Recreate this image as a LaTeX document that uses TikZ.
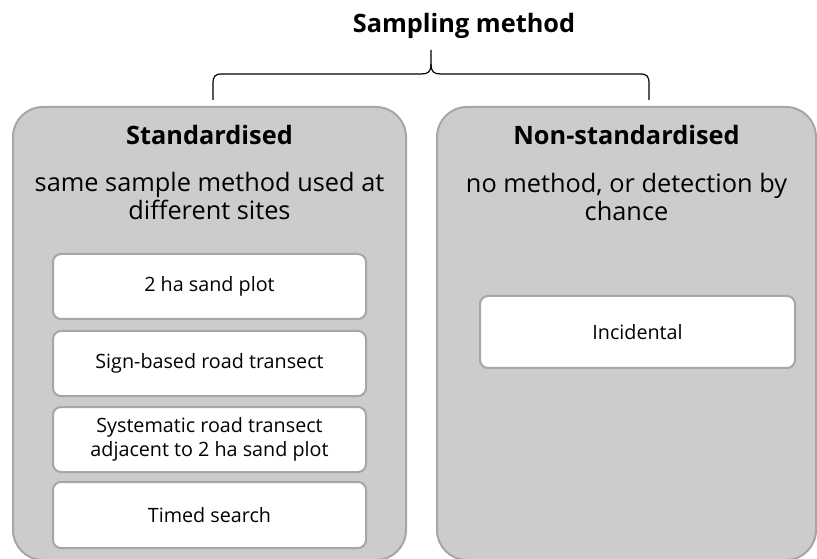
\documentclass[tikz,border=0pt]{standalone}
\usepackage{fontspec}
\setmainfont{Open Sans}

\definecolor{panelgray}{HTML}{CCCCCC}
\definecolor{edgegray}{HTML}{A6A6A6}

\tikzset{
  panel/.style={draw=edgegray, fill=panelgray, line width=1.5pt,
    rounded corners=22.5pt, inner sep=0pt},
  method/.style={draw=edgegray, fill=white, line width=1.5pt,
    rounded corners=6pt, inner sep=0pt, align=center,
    font=\fontsize{14.8}{18}\selectfont},
  heading/.style={font=\fontsize{19}{22}\selectfont\bfseries},
  subtext/.style={align=center, font=\fontsize{19}{21.4}\selectfont},
  brace line/.style={line width=0.9pt, line join=round},
}

\begin{document}
\begin{tikzpicture}[x=0.75pt, y=-0.75pt]
		\useasboundingbox (0,0) rectangle (817,559);
		
		% title and brace
		\node [heading, anchor=base] (title) at (464,33) {Sampling method};
		
		\coordinate (brace left) at (213,100);
		\coordinate (brace right) at (649,100);
		\coordinate (brace tip) at (431,50);
		\draw [brace line] (brace left) -- (213,84) .. controls (213,76) and (215,74) .. (222,74)
			-- (421,74) .. controls (428,74) and (431,72) .. (431,64) -- (brace tip);
		\draw [brace line] (brace right) -- (649,84) .. controls (649,76) and (647,74) .. (640,74)
			-- (441,74) .. controls (434,74) and (431,72) .. (431,64);
		
		% the two panels
		\node [panel, minimum width=393*0.75pt, minimum height=453*0.75pt] (std) at (209.5,333.5) {};
		\node [panel, minimum width=379*0.75pt, minimum height=453*0.75pt] (nonstd) at (626.5,333.5) {};
		
		\node [heading, anchor=base] (std head) at (209.5,145) {Standardised};
		\node [subtext, anchor=base] (std text) at (209.5,220) {same sample method used at\\different sites};
		
		\node [heading, anchor=base] (nonstd head) at (626.5,145) {Non-standardised};
		\node [subtext, anchor=base] (nonstd text) at (626.5,221) {no method, or detection by\\chance};
		
		% methods
		\node [method, minimum width=313*0.75pt, minimum height=65*0.75pt] (sand plot) at (209.5,286.5) {2 ha sand plot};
		\node [method, minimum width=313*0.75pt, minimum height=65*0.75pt] (sign road) at (209.5,363.5) {Sign-based road transect};
		\node [method, minimum width=313*0.75pt, minimum height=65*0.75pt] (syst road) at (209.5,439.5) {Systematic road transect\\adjacent to 2 ha sand plot};
		\node [method, minimum width=313*0.75pt, minimum height=66*0.75pt] (timed) at (209.5,515) {Timed search};
		
		\node [method, minimum width=315*0.75pt, minimum height=72*0.75pt] (incidental) at (637.5,332) {Incidental};
	\end{tikzpicture}
\end{document}
